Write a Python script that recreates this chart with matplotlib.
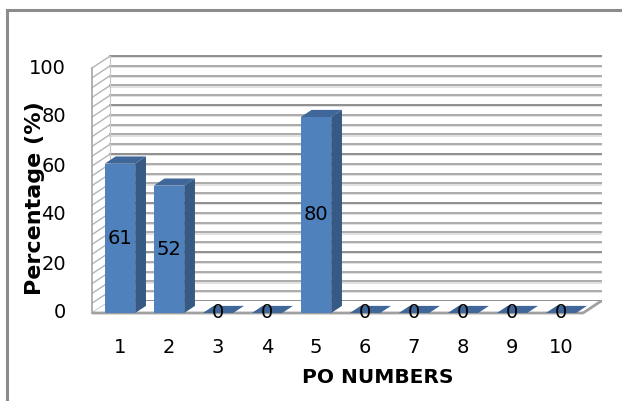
import matplotlib.pyplot as plt
from matplotlib.patches import Polygon
from matplotlib.lines import Line2D

# data
po_numbers = [1, 2, 3, 4, 5, 6, 7, 8, 9, 10]
percentages = [61, 52, 0, 0, 80, 0, 0, 0, 0, 0]
y_ticks = [0, 20, 40, 60, 80, 100]

# 3d look (in data units)
wall_dx, wall_dy = 0.37, 4.9     # depth of walls
bar_dx, bar_dy = 0.22, 2.9       # depth of bars
half_w = 0.31
x_left, x_right = 0.43, 10.45

front_c = '#4F81BD'
side_c = '#375A85'
top_c = '#3F679A'

fig = plt.figure(figsize=(6.22, 4.01), dpi=100)
plt.rcParams['font.family'] = ['DejaVu Sans']
ax = fig.add_axes([0, 0, 1, 1])
ax.set_xlim(1 - 120 / 49, 1 + 502 / 49)
ax.set_ylim(-88 / 2.45, 313 / 2.45)
ax.axis('off')

# outer frame
fig.add_artist(Line2D([0.0115, 0.0115], [0, 0.975], transform=fig.transFigure,
                      color='#8C8C8C', lw=2.2))
fig.add_artist(Line2D([0.0105, 1.0], [0.975, 0.975], transform=fig.transFigure,
                      color='#8C8C8C', lw=2.2))

# walls + gridlines
for v in range(0, 101, 4):
    major = v % 20 == 0
    col = '#8E8E8E' if major else '#ABABAB'
    ax.plot([x_left + wall_dx, x_right + wall_dx], [v + wall_dy - 0.5] * 2,
            color='#DEDEDE', lw=1.3, zorder=1)
    ax.plot([x_left + wall_dx, x_right + wall_dx], [v + wall_dy] * 2,
            color=col, lw=1.4, zorder=1.1)
    ax.plot([x_left, x_left + wall_dx], [v, v + wall_dy],
            color='#B4B4B4', lw=1.0, zorder=1.1)
ax.plot([x_left, x_left], [0, 100], color='#A6A6A6', lw=1.2, zorder=1.2)
ax.plot([x_left + wall_dx] * 2, [wall_dy, 100 + wall_dy], color='#C8C8C8',
        lw=0.8, zorder=1.2)

# floor
ax.add_patch(Polygon([(x_left, 0), (x_right, 0), (x_right + wall_dx, wall_dy),
                      (x_left + wall_dx, wall_dy)], closed=True,
                     facecolor='white', edgecolor='none', zorder=1.5))
ax.plot([x_left, x_right, x_right + wall_dx], [0, 0, wall_dy],
        color='#A0A0A0', lw=2.0, zorder=1.6, solid_capstyle='butt')

# bars
for c, v in zip(po_numbers, percentages):
    l, r = c - half_w, c + half_w
    if v > 0:
        ax.add_patch(Polygon([(l, 0), (r, 0), (r, v), (l, v)],
                             facecolor=front_c, edgecolor='none', zorder=3))
        ax.add_patch(Polygon([(r, 0), (r + bar_dx, bar_dy), (r + bar_dx, v + bar_dy), (r, v)],
                             facecolor=side_c, edgecolor='none', zorder=3))
    ax.add_patch(Polygon([(l, v), (r, v), (r + bar_dx, v + bar_dy), (l + bar_dx, v + bar_dy)],
                         facecolor=top_c, edgecolor='none', zorder=3))
    ax.text(c, v / 2 if v > 0 else 0.4, str(v), ha='center', va='center',
            fontsize=14, color='black', zorder=4)

# axis labels
for t in y_ticks:
    ax.text(-0.1, t, str(t), ha='right', va='center', fontsize=14)
for c in po_numbers:
    ax.text(c, -13.9, str(c), ha='center', va='center', fontsize=14)

ax.text(6.27, -26.5, 'PO NUMBERS', ha='center', va='center', fontsize=14.5,
        fontweight='bold')
ax.text(-0.74, 47, 'Percentage (%)', ha='center', va='center', fontsize=16,
        fontweight='bold', rotation=90, zorder=5)

fig.savefig('out.png', dpi=100)
